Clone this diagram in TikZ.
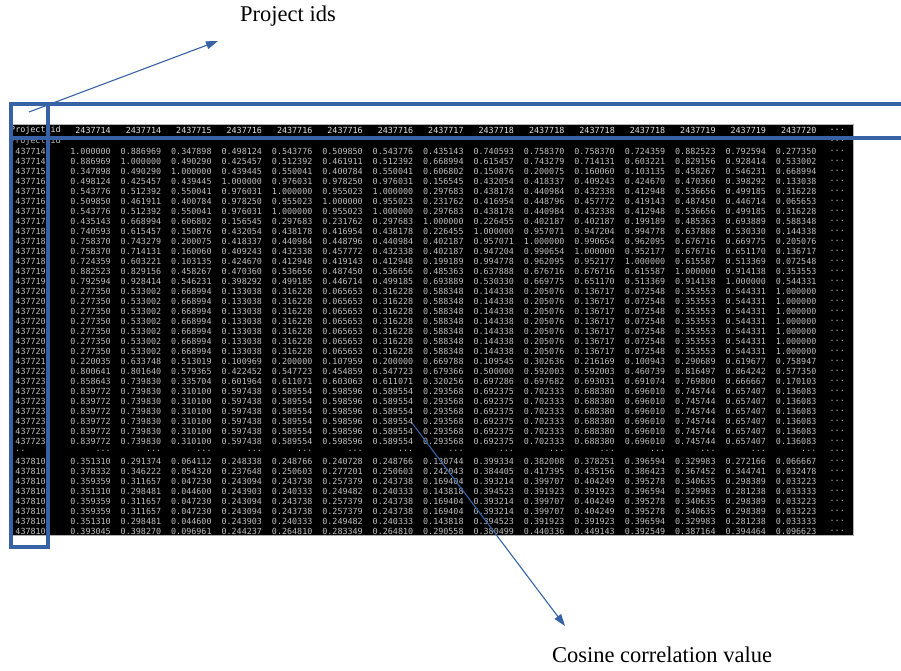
\documentclass[tikz,border=0pt]{standalone}
\usepackage{fontspec}
\setmainfont{Liberation Serif}
\newfontfamily\tablefont{DejaVu Sans Mono}
\usepackage{tikz}
\usetikzlibrary{arrows.meta, positioning}
\definecolor{markblue}{RGB}{55,99,166}
\definecolor{cellgray}{RGB}{190,190,190}
\definecolor{headgray}{RGB}{225,225,225}
\tikzset{
	cell/.style={font=\tablefont\fontsize{8.4}{10}\selectfont, text=cellgray, inner sep=0pt, anchor=east},
	head/.style={cell, text=headgray},
	markbox/.style={draw=markblue, line width=3.5pt},
	pointer/.style={draw=markblue, line width=1.1pt, -{Triangle[length=12pt,width=8pt]}},
	callout/.style={font=\fontsize{22.5}{26}\selectfont, inner sep=0pt}
}

\begin{document}
\begin{tikzpicture}[x=1pt, y=-1pt]
		\useasboundingbox (0,0) rectangle (901,670);
		\fill[black] (12,125) rectangle (853,535);
		\draw[gray!60, line width=0.8pt] (12,124.5) -- (853.5,124.5) -- (853.5,535.5) -- (12,535.5);

		\begin{scope}
		\clip (12,125) rectangle (853,535);
		\node[head, anchor=west] (h-id) at (10,130) {Project\_id};
		\foreach \h [count=\k] in {2437714,2437714,2437715,2437716,2437716,2437716,2437716,2437717,2437718,2437718,2437718,2437718,2437719,2437719,2437720}
			\node[head] (h-c\k) at ({111+(\k-1)*50.4},130) {\h};
		\node[head] (h-more) at (845,130) {...};
		\node[cell, anchor=west] (h2-id) at (10,141) {Project\_id};
		\node[cell] (h2-more) at (845,141) {...};

		\foreach \rid/\vals [count=\r] in {
			437714/{1.000000,0.886969,0.347898,0.498124,0.543776,0.509850,0.543776,0.435143,0.740593,0.758370,0.758370,0.724359,0.882523,0.792594,0.277350},
			437714/{0.886969,1.000000,0.490290,0.425457,0.512392,0.461911,0.512392,0.668994,0.615457,0.743279,0.714131,0.603221,0.829156,0.928414,0.533002},
			437715/{0.347898,0.490290,1.000000,0.439445,0.550041,0.400784,0.550041,0.606802,0.150876,0.200075,0.160060,0.103135,0.458267,0.546231,0.668994},
			437716/{0.498124,0.425457,0.439445,1.000000,0.976031,0.978250,0.976031,0.156545,0.432054,0.418337,0.409243,0.424670,0.470360,0.398292,0.133038},
			437716/{0.543776,0.512392,0.550041,0.976031,1.000000,0.955023,1.000000,0.297683,0.438178,0.440984,0.432338,0.412948,0.536656,0.499185,0.316228},
			437716/{0.509850,0.461911,0.400784,0.978250,0.955023,1.000000,0.955023,0.231762,0.416954,0.448796,0.457772,0.419143,0.487450,0.446714,0.065653},
			437716/{0.543776,0.512392,0.550041,0.976031,1.000000,0.955023,1.000000,0.297683,0.438178,0.440984,0.432338,0.412948,0.536656,0.499185,0.316228},
			437717/{0.435143,0.668994,0.606802,0.156545,0.297683,0.231762,0.297683,1.000000,0.226455,0.402187,0.402187,0.199189,0.485363,0.693889,0.588348},
			437718/{0.740593,0.615457,0.150876,0.432054,0.438178,0.416954,0.438178,0.226455,1.000000,0.957071,0.947204,0.994778,0.637888,0.530330,0.144338},
			437718/{0.758370,0.743279,0.200075,0.418337,0.440984,0.448796,0.440984,0.402187,0.957071,1.000000,0.990654,0.962095,0.676716,0.669775,0.205076},
			437718/{0.758370,0.714131,0.160060,0.409243,0.432338,0.457772,0.432338,0.402187,0.947204,0.990654,1.000000,0.952177,0.676716,0.651170,0.136717},
			437718/{0.724359,0.603221,0.103135,0.424670,0.412948,0.419143,0.412948,0.199189,0.994778,0.962095,0.952177,1.000000,0.615587,0.513369,0.072548},
			437719/{0.882523,0.829156,0.458267,0.470360,0.536656,0.487450,0.536656,0.485363,0.637888,0.676716,0.676716,0.615587,1.000000,0.914138,0.353553},
			437719/{0.792594,0.928414,0.546231,0.398292,0.499185,0.446714,0.499185,0.693889,0.530330,0.669775,0.651170,0.513369,0.914138,1.000000,0.544331},
			437720/{0.277350,0.533002,0.668994,0.133038,0.316228,0.065653,0.316228,0.588348,0.144338,0.205076,0.136717,0.072548,0.353553,0.544331,1.000000},
			437720/{0.277350,0.533002,0.668994,0.133038,0.316228,0.065653,0.316228,0.588348,0.144338,0.205076,0.136717,0.072548,0.353553,0.544331,1.000000},
			437720/{0.277350,0.533002,0.668994,0.133038,0.316228,0.065653,0.316228,0.588348,0.144338,0.205076,0.136717,0.072548,0.353553,0.544331,1.000000},
			437720/{0.277350,0.533002,0.668994,0.133038,0.316228,0.065653,0.316228,0.588348,0.144338,0.205076,0.136717,0.072548,0.353553,0.544331,1.000000},
			437720/{0.277350,0.533002,0.668994,0.133038,0.316228,0.065653,0.316228,0.588348,0.144338,0.205076,0.136717,0.072548,0.353553,0.544331,1.000000},
			437720/{0.277350,0.533002,0.668994,0.133038,0.316228,0.065653,0.316228,0.588348,0.144338,0.205076,0.136717,0.072548,0.353553,0.544331,1.000000},
			437720/{0.277350,0.533002,0.668994,0.133038,0.316228,0.065653,0.316228,0.588348,0.144338,0.205076,0.136717,0.072548,0.353553,0.544331,1.000000},
			437721/{0.220035,0.633748,0.513019,0.100969,0.200000,0.107959,0.200000,0.669788,0.109545,0.302636,0.216169,0.100943,0.290689,0.619677,0.758947},
			437722/{0.800641,0.801640,0.579365,0.422452,0.547723,0.454859,0.547723,0.679366,0.500000,0.592003,0.592003,0.460739,0.816497,0.864242,0.577350},
			437723/{0.858643,0.739830,0.335704,0.601964,0.611071,0.603063,0.611071,0.320256,0.697286,0.697682,0.693031,0.691074,0.769800,0.666667,0.170103},
			437723/{0.839772,0.739830,0.310100,0.597438,0.589554,0.598596,0.589554,0.293568,0.692375,0.702333,0.688380,0.696010,0.745744,0.657407,0.136083},
			437723/{0.839772,0.739830,0.310100,0.597438,0.589554,0.598596,0.589554,0.293568,0.692375,0.702333,0.688380,0.696010,0.745744,0.657407,0.136083},
			437723/{0.839772,0.739830,0.310100,0.597438,0.589554,0.598596,0.589554,0.293568,0.692375,0.702333,0.688380,0.696010,0.745744,0.657407,0.136083},
			437723/{0.839772,0.739830,0.310100,0.597438,0.589554,0.598596,0.589554,0.293568,0.692375,0.702333,0.688380,0.696010,0.745744,0.657407,0.136083},
			437723/{0.839772,0.739830,0.310100,0.597438,0.589554,0.598596,0.589554,0.293568,0.692375,0.702333,0.688380,0.696010,0.745744,0.657407,0.136083},
			437723/{0.839772,0.739830,0.310100,0.597438,0.589554,0.598596,0.589554,0.293568,0.692375,0.702333,0.688380,0.696010,0.745744,0.657407,0.136083}%
		} {
			\node[cell] (r\r-id) at (46,{141+10*\r}) {\rid};
			\foreach \v [count=\k] in \vals
				\node[cell] (r\r-c\k) at ({111+(\k-1)*50.4},{141+10*\r}) {\v};
			\node[cell] (r\r-more) at (845,{141+10*\r}) {...};
		}

		\node[cell, anchor=west] (gap-id) at (15,451) {..};
		\foreach \k in {1,2,...,15}
			\node[cell] (gap-c\k) at ({111+(\k-1)*50.4},451) {...};
		\node[cell] (gap-more) at (845,451) {...};

		\foreach \rid/\vals [count=\r] in {
			437810/{0.351310,0.291374,0.064112,0.248338,0.248766,0.240728,0.248766,0.130744,0.399334,0.382008,0.378251,0.396594,0.329983,0.272166,0.066667},
			437810/{0.378332,0.346222,0.054320,0.237648,0.250603,0.277201,0.250603,0.242043,0.384405,0.417395,0.435156,0.386423,0.367452,0.344741,0.032478},
			437810/{0.359359,0.311657,0.047230,0.243094,0.243738,0.257379,0.243738,0.169404,0.393214,0.399707,0.404249,0.395278,0.340635,0.298389,0.033223},
			437810/{0.351310,0.298481,0.044600,0.243903,0.240333,0.249482,0.240333,0.143818,0.394523,0.391923,0.391923,0.396594,0.329983,0.281238,0.033333},
			437810/{0.359359,0.311657,0.047230,0.243094,0.243738,0.257379,0.243738,0.169404,0.393214,0.399707,0.404249,0.395278,0.340635,0.298389,0.033223},
			437810/{0.359359,0.311657,0.047230,0.243094,0.243738,0.257379,0.243738,0.169404,0.393214,0.399707,0.404249,0.395278,0.340635,0.298389,0.033223},
			437810/{0.351310,0.298481,0.044600,0.243903,0.240333,0.249482,0.240333,0.143818,0.394523,0.391923,0.391923,0.396594,0.329983,0.281238,0.033333},
			437810/{0.393045,0.398270,0.096961,0.244237,0.264810,0.283349,0.264810,0.290558,0.380499,0.440336,0.449143,0.392549,0.387164,0.394464,0.096623}%
		} {
			\node[cell] (s\r-id) at (46,{451+10*\r}) {\rid};
			\foreach \v [count=\k] in \vals
				\node[cell] (s\r-c\k) at ({111+(\k-1)*50.4},{451+10*\r}) {\v};
			\node[cell] (s\r-more) at (845,{451+10*\r}) {...};
		}
		\end{scope}

		\draw[markbox] (901,104) -- (11,104) -- (11,138) -- (901,138);
		\draw[markbox] (11,104) rectangle (48,547);

		\coordinate (idsrc) at (29,112);
		\coordinate (idtip) at (218,41);
		\draw[pointer] (idsrc) -- (idtip);
		\node[callout, above=15pt of idtip, xshift=70pt] (idlabel) {Project ids};

		\coordinate (valsrc) at (412,423);
		\coordinate (valtip) at (565,626);
		\draw[pointer] (valsrc) -- (valtip);
		\node[callout, below=21pt of valtip, xshift=97pt] (vallabel) {Cosine correlation value};
	\end{tikzpicture}
\end{document}
